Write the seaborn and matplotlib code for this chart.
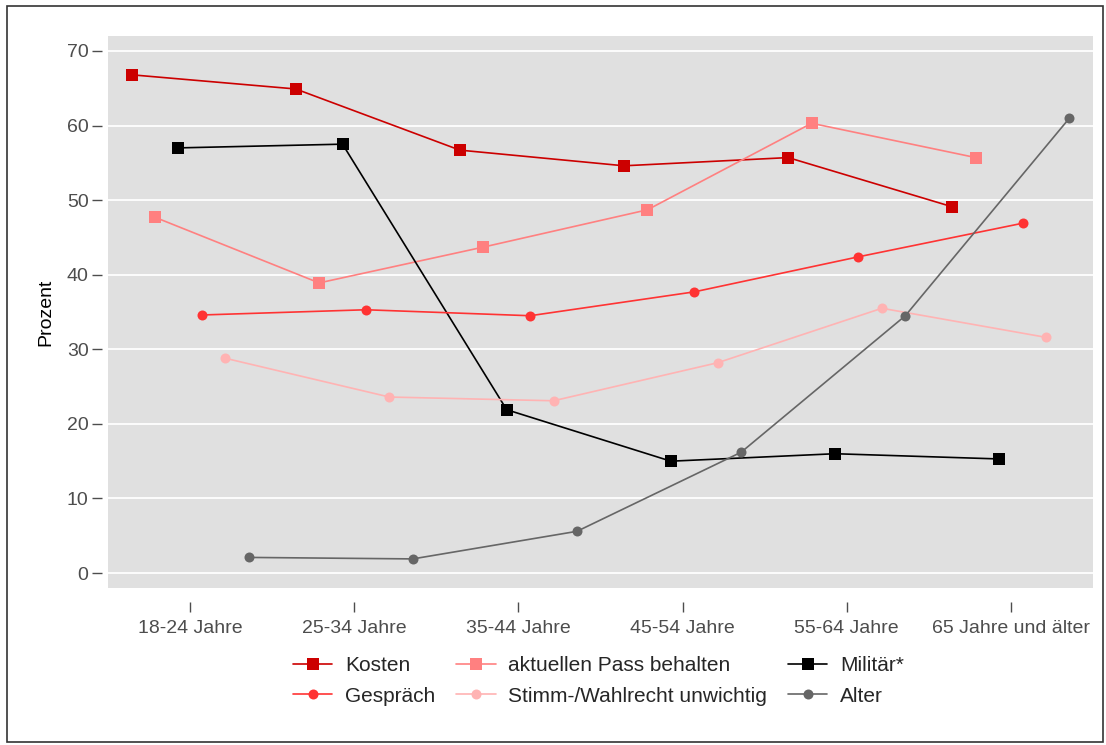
import numpy as np
import pandas as pd
import matplotlib
matplotlib.use("Agg")
import matplotlib.pyplot as plt
import seaborn as sns
from matplotlib.lines import Line2D
from matplotlib.patches import Rectangle

# Data
age_groups = ["18-24 Jahre", "25-34 Jahre", "35-44 Jahre", "45-54 Jahre",
              "55-64 Jahre", "65 Jahre und älter"]
series_names = ["Kosten", "aktuellen Pass behalten", "Militär*", "Gespräch",
                "Stimm-/Wahlrecht unwichtig", "Alter"]
kosten = [66.8, 64.9, 56.7, 54.6, 55.7, 49.1]
pass_behalten = [47.7, 38.9, 43.7, 48.7, 60.3, 55.7]
militaer = [57.0, 57.5, 21.9, 15.0, 16.0, 15.3]
gespraech = [34.6, 35.3, 34.5, 37.7, 42.4, 46.9]
stimmrecht = [28.8, 23.6, 23.1, 28.2, 35.5, 31.6]
alter = [2.1, 1.9, 5.6, 16.2, 34.5, 61.0]
y_ticks = [0, 10, 20, 30, 40, 50, 60, 70]

values = [kosten, pass_behalten, militaer, gespraech, stimmrecht, alter]
colors = ["#CC0000", "#FF8080", "#000000", "#FF3333", "#FFB3B3", "#666666"]
markers = ["s", "s", "s", "o", "o", "o"]

rows = []
for i, (name, vals) in enumerate(zip(series_names, values)):
    for j, v in enumerate(vals):
        rows.append({"serie": name, "gruppe": j, "idx": i, "wert": v})
df = pd.DataFrame(rows)
# dodge like ggplot position_dodge
step = 0.1427
df["x"] = df["gruppe"] + (df["idx"] - 2.5) * step


def msize(mk):
    return 8.2 if mk == "s" else 7.2


sns.set_theme(style="white")
plt.rcParams["font.family"] = ["Liberation Sans Narrow", "Liberation Sans", "DejaVu Sans"]

fig = plt.figure(figsize=(11.06, 7.45), dpi=100)
ax = fig.add_axes([108 / 1106, 1 - 588 / 745, (1093 - 108) / 1106, (588 - 36) / 745])
ax.set_facecolor("#E0E0E0")

for name, col, mk in zip(series_names, colors, markers):
    sub = df[df["serie"] == name]
    sns.lineplot(data=sub, x="x", y="wert", ax=ax, color=col, marker=mk,
                 markersize=msize(mk), markeredgewidth=0,
                 linewidth=1.2, legend=False)

ax.set_xlim(-0.5, 5.5)
ax.set_ylim(-2, 72)
ax.set_xticks(range(len(age_groups)))
ax.set_xticklabels(age_groups)
ax.set_yticks(y_ticks)
ax.grid(axis="y", color="white", linewidth=1.3)
ax.grid(axis="x", visible=False)
ax.set_axisbelow(True)
for s in ax.spines.values():
    s.set_visible(False)
ax.spines["left"].set_position(("outward", 4))
ax.spines["bottom"].set_position(("outward", 10))
ax.tick_params(axis="both", which="major", direction="out", length=7, width=1,
               color="#4D4D4D", labelcolor="#4D4D4D", labelsize=14)
ax.tick_params(axis="x", pad=6)
ax.tick_params(axis="y", pad=3)
ax.tick_params(left=True, bottom=True)
ax.set_xlabel("")
ax.set_ylabel("Prozent", fontsize=14, color="black", labelpad=9)

legend_order = ["Kosten", "Gespräch", "aktuellen Pass behalten",
                "Stimm-/Wahlrecht unwichtig", "Militär*", "Alter"]
handles = []
for name in legend_order:
    k = series_names.index(name)
    handles.append(Line2D([0], [0], color=colors[k], marker=markers[k], linewidth=1.2,
                          markersize=msize(markers[k]), markeredgewidth=0))
fig.legend(handles, legend_order, ncol=3, loc="center", bbox_to_anchor=(0.541, 1 - 681 / 745),
           frameon=False, fontsize=15, handlelength=1.9, columnspacing=1.0,
           labelspacing=0.55, handletextpad=0.6)

fig.patches.append(Rectangle((7 / 1106, 3 / 745), 1096 / 1106, 736 / 745,
                             transform=fig.transFigure, fill=False,
                             edgecolor="#333333", linewidth=1.2))

fig.savefig("out.png", dpi=100)
